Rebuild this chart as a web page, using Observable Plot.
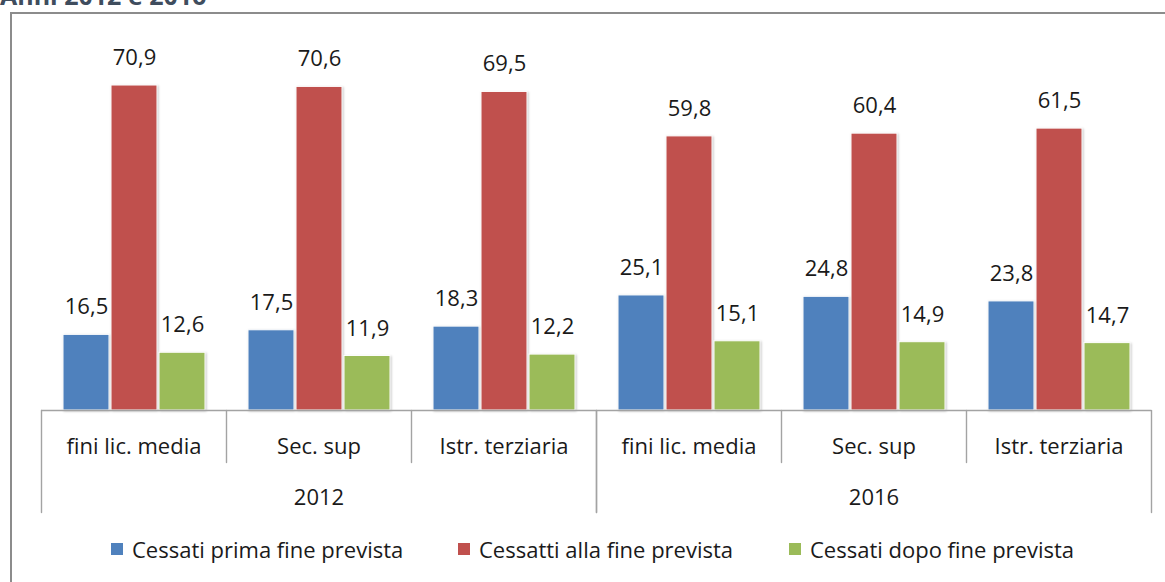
<!DOCTYPE html>
<html>
<head>
<meta charset="utf-8">
<script src="https://cdn.jsdelivr.net/npm/d3@7"></script>
<script src="https://cdn.jsdelivr.net/npm/@observablehq/plot@0.6"></script>
<style>
  html, body { margin: 0; padding: 0; background: #fff; width: 1165px; height: 582px; overflow: hidden; }
  body { position: relative; font-family: "Open Sans", sans-serif; }
  #title { position: absolute; left: 0; top: -17px; font-size: 25px; line-height: 25px; font-weight: bold; color: #3f4d5e; white-space: nowrap; }
  #box { position: absolute; left: 10px; top: 12px; width: 1200px; height: 640px; border: 2px solid #8c8c8c; box-sizing: border-box; }
  #chart { position: absolute; left: 0; top: 0; }
  #legend { position: absolute; left: 111px; top: 535px; display: flex; align-items: center; font-size: 22px; line-height: 28px; color: #1a1a1a; white-space: nowrap; }
  #legend .item { display: flex; align-items: center; }
  #legend .sw { width: 12px; height: 12px; margin-right: 9px; }
  g[aria-label="bar"] rect { filter: drop-shadow(1.5px 1px 1.2px rgba(0,0,0,0.22)); }
</style>
</head>
<body>
<div id="title">Anni 2012 e 2016</div>
<div id="box"></div>
<div id="chart"></div>
<div id="legend"></div>
<script>
const years = ["2012", "2016"];
const categories = ["fini lic. media", "Sec. sup", "Istr. terziaria"];
const series = ["Cessati prima fine prevista", "Cessatti alla fine prevista", "Cessati dopo fine prevista"];
const prima = [16.5, 17.5, 18.3, 25.1, 24.8, 23.8];
const alla = [70.9, 70.6, 69.5, 59.8, 60.4, 61.5];
const dopo = [12.6, 11.9, 12.2, 15.1, 14.9, 14.7];
const colors = ["#4F81BD", "#C0504D", "#9BBB59"];

const groups = [];
years.forEach(y => categories.forEach(c => groups.push({year: y, category: c, key: y + " " + c})));
const seriesValues = [prima, alla, dopo];
const data = [];
groups.forEach((g, i) => series.forEach((s, j) => data.push({...g, series: s, value: seriesValues[j][i]})));

const fmt = v => v.toFixed(1).replace(".", ",");
const sepColor = "#a3a3a3";
const lineShape = {draw(context, l) { context.moveTo(0, 0); context.lineTo(0, -l); }};

const firstCat = categories[0], midCat = categories[1], lastCat = categories[categories.length - 1];

const chart = Plot.plot({
  width: 1165,
  height: 520,
  marginTop: 20,
  marginBottom: 8,
  marginLeft: 40,
  marginRight: 14,
  style: {fontFamily: "'Open Sans', sans-serif", fontSize: "22px", color: "#1a1a1a", background: "transparent"},
  fx: {domain: groups.map(g => g.key), padding: 0, axis: null},
  x: {domain: series, paddingInner: 0.05, paddingOuter: 0.44, axis: null},
  y: {domain: [0, 80], range: [410, 43.3], axis: null},
  color: {domain: series, range: colors},
  marks: [
    Plot.barY(data, {fx: "key", x: "series", y: "value", fill: "series", stroke: "white", strokeWidth: 1}),
    Plot.ruleY([0], {stroke: sepColor, strokeWidth: 1.4}),
    Plot.text(data, {fx: "key", x: "series", y: "value", text: d => fmt(d.value), dy: -27.5, fontSize: 22, fill: "#1a1a1a"}),
    Plot.vector(groups.filter(g => g.category !== firstCat), {fx: "key", y: 0, frameAnchor: "left", rotate: 180, anchor: "start", length: 52, shape: lineShape, stroke: sepColor, strokeWidth: 1.4, fill: "none"}),
    Plot.vector(groups.filter(g => g.category === firstCat), {fx: "key", y: 0, frameAnchor: "left", rotate: 180, anchor: "start", length: 102, shape: lineShape, stroke: sepColor, strokeWidth: 1.4, fill: "none"}),
    Plot.vector(groups.filter(g => g.category === lastCat), {fx: "key", y: 0, frameAnchor: "right", rotate: 180, anchor: "start", length: 102, shape: lineShape, stroke: sepColor, strokeWidth: 1.4, fill: "none"}),
    Plot.text(groups, {fx: "key", y: 0, text: "category", dy: 36, fontSize: 22, fill: "#1a1a1a"}),
    Plot.text(groups.filter(g => g.category === midCat), {fx: "key", y: 0, text: "year", dy: 87, fontSize: 22, fill: "#1a1a1a"})
  ]
});
document.getElementById("chart").appendChild(chart);

const legend = document.getElementById("legend");
const itemWidths = ["347px", "331px", "auto"];
series.forEach((s, i) => {
  const item = document.createElement("div");
  item.className = "item";
  item.style.width = itemWidths[i];
  const sw = document.createElement("span");
  sw.className = "sw";
  sw.style.background = colors[i];
  const label = document.createElement("span");
  label.textContent = s;
  item.appendChild(sw);
  item.appendChild(label);
  legend.appendChild(item);
});
</script>
</body>
</html>
